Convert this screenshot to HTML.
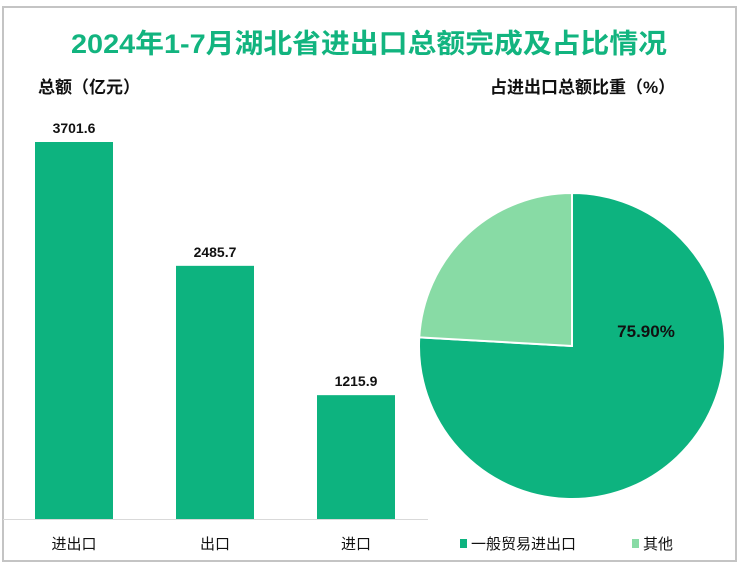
<!DOCTYPE html>
<html><head><meta charset="utf-8"><style>
body{margin:0;width:739px;height:567px;background:#fff;font-family:"Liberation Sans","Noto Sans CJK SC",sans-serif;overflow:hidden}
</style></head><body>
<svg width="739" height="567" font-family="Liberation Sans, Noto Sans CJK SC, sans-serif">
<rect x="3" y="7" width="733" height="554" fill="#fff" stroke="#c4c4c4" stroke-width="2"/>
<text x="369" y="53" text-anchor="middle" font-size="27" font-weight="bold" fill="#12b47f" textLength="596" lengthAdjust="spacingAndGlyphs">2024年1-7月湖北省进出口总额完成及占比情况</text>
<text x="38" y="93" font-size="17" font-weight="bold" fill="#111">总额（亿元）</text>
<text x="490" y="93" font-size="17" font-weight="bold" fill="#111">占进出口总额比重（%）</text>
<line x1="3" y1="519.5" x2="428" y2="519.5" stroke="#d9d9d9" stroke-width="1"/>
<g id="bars"></g>
<g id="pie"></g>
<g>
<rect x="460" y="539" width="7" height="9" fill="#0db37f"/>
<text x="471" y="549" font-size="15" fill="#111">一般贸易进出口</text>
<rect x="632" y="539" width="7" height="9" fill="#88dba5"/>
<text x="643" y="549" font-size="15" fill="#111">其他</text>
</g>
</svg>
<script>
const categories=["进出口","出口","进口"];
const values=[3701.6,2485.7,1215.9];
const valueLabels=["3701.6","2485.7","1215.9"];
const pieLabels=["一般贸易进出口","其他"];
const pieValues=[75.9,24.1];
const pieText=["75.90%",""];
const ns="http://www.w3.org/2000/svg";
const base=519, scale=377/3701.6;
function y(v){return base-v*scale;}
function x(i){return 35+i*141;}
const bw=78;
const bg=document.getElementById('bars');
values.forEach((v,i)=>{
 const r=document.createElementNS(ns,'rect');
 r.setAttribute('x',x(i));r.setAttribute('y',y(v));r.setAttribute('width',bw);r.setAttribute('height',base-y(v));r.setAttribute('fill','#0db37f');
 
 
 bg.appendChild(r);
 const t=document.createElementNS(ns,'text');
 t.setAttribute('x',x(i)+bw/2);t.setAttribute('y',y(v)-9);t.setAttribute('text-anchor','middle');t.setAttribute('font-size','14');t.setAttribute('font-weight','bold');t.setAttribute('fill','#111');
 t.textContent=valueLabels[i];
 
 
 bg.appendChild(t);
 const c=document.createElementNS(ns,'text');
 c.setAttribute('x',x(i)+bw/2);c.setAttribute('y',549);c.setAttribute('text-anchor','middle');c.setAttribute('font-size','15');c.setAttribute('fill','#111');
 c.textContent=categories[i];
 
 
 bg.appendChild(c);
});
const cx=572,cy=346,R=153;
const colors=["#0db37f","#88dba5"];
const pg=document.getElementById('pie');
const total=pieValues.reduce((a,b)=>a+b,0);
let a0=0;
pieValues.forEach((v,i)=>{
 const a1=a0+v/total*2*Math.PI;
 const p=(a)=>[cx+R*Math.sin(a),cy-R*Math.cos(a)];
 const [x0,y0]=p(a0),[x1,y1]=p(a1);
 const path=document.createElementNS(ns,'path');
 path.setAttribute('d',`M${cx},${cy}L${x0},${y0}A${R},${R} 0 ${a1-a0>Math.PI?1:0} 1 ${x1},${y1}Z`);
 path.setAttribute('fill',colors[i]);path.setAttribute('stroke','#fff');path.setAttribute('stroke-width','2');
 
 
 pg.appendChild(path);
 a0=a1;
});
const lt=document.createElementNS(ns,'text');
lt.setAttribute('x',646);lt.setAttribute('y',337);lt.setAttribute('text-anchor','middle');lt.setAttribute('font-size','17');lt.setAttribute('font-weight','bold');lt.setAttribute('fill','#111');
lt.textContent=pieText[0];


pg.appendChild(lt);
</script>
</body></html>
